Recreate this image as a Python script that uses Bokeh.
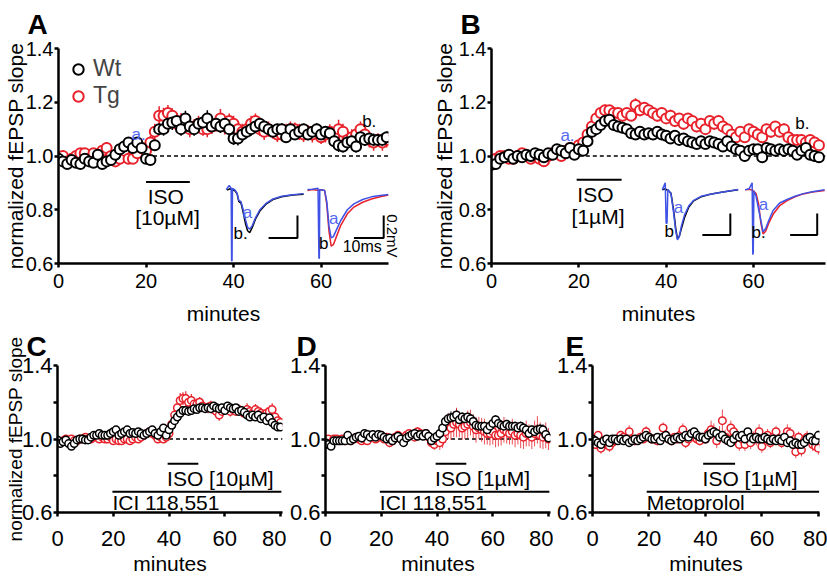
from bokeh.plotting import figure
from bokeh.models import (Range1d, FixedTicker, Label, Legend, LegendItem,
                          ColumnDataSource, Title, PrintfTickFormatter)
from bokeh.layouts import column, row
from bokeh.embed import file_html
from bokeh.resources import INLINE

FONT = "Liberation Sans"
RED = "#E8212B"
BLUE = "#3F52E6"
LBLUE = "#5468F0"

# ---------------- data ----------------
minutes_ab = list(range(76))
minutes_cde = list(range(81))

A_wt = [0.99, 0.98, 0.97, 0.985, 0.975, 0.97, 0.99, 0.98, 0.975, 1.005,
        0.97, 0.98, 0.985, 1.005, 1.025, 1.035, 1.05, 1.03, 1.05, 1.03,
        0.99, 0.985, 1.04, 1.10, 1.10, 1.12, 1.125, 1.13, 1.10, 1.14,
        1.11, 1.10, 1.12, 1.125, 1.14, 1.11, 1.12, 1.11, 1.12, 1.10,
        1.065, 1.065, 1.08, 1.09, 1.10, 1.11, 1.12, 1.11, 1.10, 1.09,
        1.10, 1.10, 1.07, 1.10, 1.08, 1.09, 1.10, 1.08, 1.09, 1.10,
        1.08, 1.09, 1.085, 1.055, 1.04, 1.035, 1.05, 1.055, 1.035, 1.07,
        1.06, 1.065, 1.06, 1.06, 1.06, 1.07]
A_wt_err = [0.01, 0.012, 0.015, 0.012, 0.014, 0.015, 0.012, 0.013, 0.015, 0.014,
            0.016, 0.015, 0.014, 0.016, 0.018, 0.017, 0.02, 0.018, 0.02, 0.018,
            0.015, 0.016, 0.02, 0.022, 0.025, 0.024, 0.028, 0.03, 0.025, 0.028,
            0.026, 0.025, 0.024, 0.025, 0.03, 0.026, 0.025, 0.024, 0.026, 0.025,
            0.024, 0.026, 0.025, 0.024, 0.025, 0.02, 0.022, 0.02, 0.022, 0.024,
            0.02, 0.022, 0.02, 0.021, 0.02, 0.022, 0.02, 0.021, 0.02, 0.022,
            0.02, 0.02, 0.022, 0.021, 0.025, 0.022, 0.02, 0.024, 0.022, 0.02,
            0.022, 0.02, 0.024, 0.022, 0.025, 0.02]
A_tg = [0.99, 1.0, 0.98, 0.99, 1.0, 1.01, 1.01, 0.99, 1.01, 1.0,
        1.02, 1.03, 1.0, 0.98, 0.99, 1.02, 0.99, 0.99, 1.01, 1.03,
        1.02, 1.05, 1.09, 1.15, 1.15, 1.16, 1.15, 1.12, 1.13, 1.12,
        1.10, 1.11, 1.12, 1.10, 1.10, 1.11, 1.12, 1.14, 1.11, 1.13,
        1.12, 1.10, 1.09, 1.10, 1.12, 1.13, 1.10, 1.09, 1.10, 1.09,
        1.08, 1.08, 1.09, 1.10, 1.10, 1.09, 1.08, 1.09, 1.08, 1.09,
        1.07, 1.08, 1.09, 1.07, 1.10, 1.09, 1.06, 1.07, 1.08, 1.10,
        1.08, 1.06, 1.05, 1.06, 1.05, 1.06]
A_tg_err = [0.015, 0.02, 0.015, 0.018, 0.02, 0.018, 0.02, 0.015, 0.02, 0.018,
            0.02, 0.022, 0.02, 0.018, 0.02, 0.022, 0.02, 0.018, 0.02, 0.022,
            0.02, 0.025, 0.03, 0.035, 0.03, 0.03, 0.028, 0.03, 0.03, 0.028,
            0.03, 0.028, 0.03, 0.025, 0.03, 0.028, 0.03, 0.035, 0.03, 0.028,
            0.03, 0.028, 0.03, 0.025, 0.03, 0.028, 0.025, 0.03, 0.028, 0.025,
            0.028, 0.025, 0.03, 0.028, 0.025, 0.03, 0.028, 0.025, 0.03, 0.028,
            0.025, 0.03, 0.028, 0.03, 0.035, 0.03, 0.028, 0.03, 0.03, 0.028,
            0.03, 0.028, 0.03, 0.025, 0.03, 0.028]

B_wt = [0.967, 0.97, 0.99, 0.995, 1.005, 0.99, 1.0, 0.995, 1.005, 1.0,
        1.01, 1.005, 0.995, 1.01, 1.005, 1.025, 1.02, 1.01, 1.03, 1.005,
        1.025, 1.02, 1.055, 1.09, 1.10, 1.115, 1.13, 1.135, 1.115, 1.11,
        1.105, 1.10, 1.085, 1.08, 1.09, 1.08, 1.085, 1.08, 1.09, 1.08,
        1.075, 1.065, 1.075, 1.06, 1.065, 1.055, 1.05, 1.045, 1.055, 1.045,
        1.055, 1.05, 1.045, 1.035, 1.055, 1.035, 1.025, 1.02, 1.0, 1.02,
        1.025, 1.025, 0.995, 1.03, 1.025, 1.02, 1.025, 1.02, 1.025, 1.02,
        1.005, 1.02, 1.03, 1.005, 1.0, 0.995]
B_wt_err = [0.01, 0.01, 0.008, 0.01, 0.008, 0.01, 0.008, 0.01, 0.008, 0.01,
            0.01, 0.008, 0.01, 0.01, 0.008, 0.01, 0.01, 0.008, 0.01, 0.01,
            0.01, 0.012, 0.012, 0.012, 0.01, 0.012, 0.01, 0.012, 0.01, 0.012,
            0.012, 0.01, 0.012, 0.012, 0.01, 0.012, 0.012, 0.01, 0.012, 0.012,
            0.012, 0.015, 0.012, 0.015, 0.012, 0.015, 0.018, 0.015, 0.02, 0.015,
            0.015, 0.012, 0.015, 0.015, 0.012, 0.015, 0.015, 0.015, 0.02, 0.015,
            0.015, 0.018, 0.02, 0.015, 0.015, 0.015, 0.012, 0.015, 0.015, 0.015,
            0.018, 0.015, 0.015, 0.02, 0.02, 0.015]
B_tg = [0.98, 0.99, 1.0, 1.0, 0.99, 0.99, 1.0, 1.01, 1.0, 0.99,
        1.0, 0.99, 0.98, 1.0, 1.01, 1.01, 1.0, 1.02, 1.03, 1.02,
        1.04, 1.05, 1.08, 1.11, 1.14, 1.16, 1.17, 1.17, 1.16, 1.16,
        1.15, 1.16, 1.15, 1.19, 1.17, 1.18, 1.17, 1.16, 1.15, 1.16,
        1.14, 1.15, 1.13, 1.14, 1.12, 1.14, 1.13, 1.11, 1.12, 1.10,
        1.13, 1.12, 1.13, 1.11, 1.10, 1.08, 1.07, 1.09, 1.07, 1.10,
        1.09, 1.08, 1.07, 1.10, 1.09, 1.11, 1.09, 1.10, 1.07, 1.06,
        1.06, 1.06, 1.05, 1.06, 1.05, 1.04]
B_tg_err = [0.01, 0.012, 0.01, 0.012, 0.01, 0.012, 0.01, 0.012, 0.01, 0.012,
            0.012, 0.01, 0.012, 0.012, 0.01, 0.012, 0.012, 0.015, 0.015, 0.015,
            0.015, 0.018, 0.02, 0.025, 0.022, 0.02, 0.022, 0.02, 0.022, 0.02,
            0.022, 0.02, 0.02, 0.025, 0.022, 0.02, 0.022, 0.02, 0.022, 0.02,
            0.02, 0.022, 0.02, 0.02, 0.022, 0.02, 0.02, 0.022, 0.02, 0.02,
            0.02, 0.022, 0.02, 0.02, 0.022, 0.02, 0.02, 0.022, 0.02, 0.02,
            0.02, 0.022, 0.02, 0.02, 0.022, 0.02, 0.02, 0.022, 0.02, 0.02,
            0.02, 0.022, 0.02, 0.02, 0.022, 0.02]

C_wt = [0.995, 0.975, 0.985, 0.995, 0.975, 0.96, 0.975, 0.995, 1.0, 1.0,
        0.995, 0.995, 1.01, 1.02, 1.02, 1.03, 1.02, 1.02, 1.02, 1.03,
        1.04, 1.05, 1.02, 1.03, 1.04, 1.05, 1.03, 1.035, 1.03, 1.04,
        1.03, 1.02, 1.03, 1.04, 1.05, 1.03, 1.02, 1.04, 1.06, 1.02,
        1.05, 1.075, 1.10, 1.12, 1.14, 1.155, 1.155, 1.15, 1.155, 1.165,
        1.16, 1.17, 1.17, 1.165, 1.17, 1.165, 1.18, 1.17, 1.165, 1.17,
        1.155, 1.18, 1.17, 1.165, 1.17, 1.15, 1.155, 1.145, 1.13, 1.12,
        1.13, 1.12, 1.13, 1.11, 1.12, 1.10, 1.115, 1.09, 1.075, 1.065,
        1.065]
C_wt_err = [0.008, 0.01, 0.008, 0.01, 0.008, 0.01, 0.008, 0.01, 0.008, 0.01,
            0.01, 0.008, 0.01, 0.01, 0.008, 0.01, 0.01, 0.008, 0.01, 0.01,
            0.01, 0.012, 0.01, 0.01, 0.012, 0.01, 0.01, 0.012, 0.01, 0.01,
            0.012, 0.01, 0.01, 0.012, 0.01, 0.01, 0.012, 0.01, 0.012, 0.01,
            0.012, 0.012, 0.015, 0.012, 0.012, 0.015, 0.012, 0.012, 0.015, 0.012,
            0.012, 0.015, 0.012, 0.012, 0.015, 0.012, 0.012, 0.015, 0.012, 0.012,
            0.015, 0.012, 0.012, 0.015, 0.012, 0.012, 0.015, 0.012, 0.012, 0.015,
            0.012, 0.015, 0.012, 0.015, 0.012, 0.015, 0.012, 0.015, 0.012, 0.015,
            0.012]
C_tg = [0.99, 0.98, 0.99, 1.0, 0.99, 1.0, 0.99, 0.99, 1.0, 1.0,
        1.01, 1.0, 1.0, 1.01, 1.01, 1.0, 1.01, 1.0, 1.0, 1.01,
        0.99, 1.0, 0.99, 0.99, 1.0, 1.0, 0.99, 1.0, 1.01, 1.0,
        1.01, 1.02, 1.03, 1.04, 1.03, 1.02, 1.0, 1.01, 1.0, 1.01,
        1.03, 1.08, 1.13, 1.17, 1.21, 1.22, 1.22, 1.20, 1.21, 1.19,
        1.19, 1.20, 1.18, 1.17, 1.17, 1.18, 1.16, 1.15, 1.13, 1.15,
        1.16, 1.17, 1.15, 1.16, 1.15, 1.16, 1.15, 1.14, 1.16, 1.15,
        1.14, 1.16, 1.15, 1.14, 1.13, 1.14, 1.15, 1.16, 1.12, 1.10,
        1.09]
C_tg_err = [0.01, 0.012, 0.01, 0.012, 0.01, 0.012, 0.01, 0.012, 0.01, 0.012,
            0.012, 0.01, 0.012, 0.012, 0.01, 0.012, 0.012, 0.01, 0.012, 0.012,
            0.012, 0.015, 0.012, 0.012, 0.015, 0.012, 0.012, 0.015, 0.012, 0.012,
            0.015, 0.012, 0.015, 0.018, 0.015, 0.012, 0.015, 0.012, 0.015, 0.015,
            0.02, 0.025, 0.03, 0.035, 0.04, 0.035, 0.04, 0.03, 0.035, 0.03,
            0.03, 0.028, 0.03, 0.025, 0.03, 0.028, 0.03, 0.025, 0.03, 0.028,
            0.03, 0.025, 0.028, 0.03, 0.025, 0.028, 0.03, 0.025, 0.035, 0.03,
            0.028, 0.03, 0.025, 0.03, 0.028, 0.03, 0.032, 0.035, 0.03, 0.028,
            0.025]

D_wt = [0.98, 0.97, 0.96, 0.99, 0.99, 0.99, 0.99, 0.99, 1.02, 0.99,
        1.0, 1.01, 1.015, 1.005, 1.03, 1.025, 1.01, 1.025, 1.01, 1.025,
        1.02, 1.01, 1.0, 1.005, 0.99, 1.005, 1.015, 1.0, 0.98, 1.005,
        1.015, 1.025, 1.03, 1.015, 1.025, 1.015, 1.03, 1.015, 0.99, 1.005,
        1.015, 1.03, 1.06, 1.095, 1.11, 1.115, 1.12, 1.13, 1.105, 1.12,
        1.11, 1.12, 1.11, 1.095, 1.075, 1.07, 1.07, 1.07, 1.05, 1.07,
        1.085, 1.105, 1.085, 1.075, 1.07, 1.08, 1.07, 1.07, 1.07, 1.06,
        1.07, 1.06, 1.05, 1.03, 1.05, 1.04, 1.05, 1.055, 1.05, 1.025,
        1.005]
D_wt_err = [0.012, 0.015, 0.012, 0.012, 0.015, 0.012, 0.012, 0.015, 0.012, 0.012,
            0.015, 0.012, 0.012, 0.015, 0.012, 0.012, 0.015, 0.012, 0.012, 0.015,
            0.012, 0.015, 0.012, 0.015, 0.02, 0.015, 0.012, 0.015, 0.02, 0.015,
            0.012, 0.015, 0.012, 0.015, 0.012, 0.015, 0.012, 0.015, 0.02, 0.015,
            0.015, 0.02, 0.025, 0.03, 0.03, 0.035, 0.03, 0.035, 0.03, 0.025,
            0.025, 0.02, 0.025, 0.02, 0.025, 0.02, 0.02, 0.025, 0.02, 0.025,
            0.02, 0.025, 0.02, 0.025, 0.02, 0.02, 0.025, 0.02, 0.025, 0.02,
            0.025, 0.02, 0.025, 0.025, 0.02, 0.025, 0.03, 0.025, 0.03, 0.025,
            0.02]
D_tg = [0.99, 1.0, 0.98, 1.0, 1.0, 0.99, 1.0, 0.99, 1.0, 0.99,
        1.0, 1.01, 1.0, 0.99, 1.0, 0.99, 1.02, 1.01, 1.0, 1.01,
        1.02, 1.0, 1.01, 0.98, 0.99, 1.01, 1.02, 1.01, 1.0, 1.02,
        1.03, 1.02, 1.01, 1.04, 1.03, 1.02, 1.03, 1.01, 0.98, 0.97,
        0.99, 0.98, 1.0, 1.04, 1.07, 1.06, 1.08, 1.09, 1.08, 1.06,
        1.07, 1.08, 1.09, 1.07, 1.05, 1.06, 1.05, 1.04, 1.03, 1.03,
        1.04, 1.02, 1.02, 1.03, 1.05, 1.04, 1.03, 1.04, 1.02, 1.03,
        1.02, 1.01, 1.03, 1.02, 1.01, 1.03, 1.05, 1.02, 1.01, 1.02,
        1.0]
D_tg_err = [0.015, 0.012, 0.015, 0.012, 0.015, 0.012, 0.015, 0.012, 0.015, 0.012,
            0.015, 0.012, 0.015, 0.012, 0.015, 0.012, 0.015, 0.012, 0.015, 0.012,
            0.015, 0.02, 0.015, 0.025, 0.02, 0.015, 0.02, 0.015, 0.02, 0.015,
            0.02, 0.015, 0.02, 0.025, 0.02, 0.015, 0.02, 0.02, 0.025, 0.03,
            0.035, 0.04, 0.05, 0.06, 0.07, 0.065, 0.07, 0.08, 0.07, 0.065,
            0.07, 0.075, 0.07, 0.065, 0.07, 0.06, 0.065, 0.07, 0.06, 0.065,
            0.07, 0.065, 0.06, 0.065, 0.07, 0.065, 0.06, 0.07, 0.065, 0.06,
            0.07, 0.065, 0.07, 0.06, 0.065, 0.07, 0.075, 0.07, 0.065, 0.07,
            0.06]

E_wt = [1.0, 0.99, 0.98, 0.97, 0.99, 1.0, 0.98, 1.0, 1.0, 0.99,
        1.0, 0.99, 1.0, 0.98, 0.99, 1.0, 0.99, 1.0, 1.01, 1.02,
        1.01, 1.0, 1.0, 1.01, 0.99, 1.01, 1.02, 1.0, 0.99, 1.0,
        1.01, 1.0, 1.01, 1.02, 1.01, 1.03, 1.04, 1.02, 1.01, 1.01,
        1.0, 1.02, 1.03, 1.04, 1.03, 1.01, 1.02, 1.0, 0.99, 0.98,
        1.0, 1.02, 1.01, 1.02, 1.0, 1.04, 1.01, 1.0, 1.01, 1.0,
        1.0, 1.01, 1.0, 0.99, 1.0, 0.99, 1.0, 0.99, 1.01, 0.98,
        0.99, 0.97, 0.98, 0.97, 0.97, 0.98, 1.0, 1.01, 0.99, 0.99,
        1.02]
E_wt_err = [0.012, 0.01, 0.012, 0.015, 0.012, 0.01, 0.012, 0.01, 0.012, 0.01,
            0.012, 0.01, 0.012, 0.015, 0.012, 0.01, 0.012, 0.01, 0.012, 0.01,
            0.012, 0.01, 0.012, 0.01, 0.012, 0.01, 0.012, 0.01, 0.012, 0.01,
            0.012, 0.01, 0.012, 0.01, 0.012, 0.015, 0.012, 0.01, 0.012, 0.01,
            0.012, 0.015, 0.012, 0.015, 0.012, 0.01, 0.012, 0.01, 0.012, 0.01,
            0.012, 0.01, 0.012, 0.01, 0.012, 0.015, 0.012, 0.01, 0.012, 0.01,
            0.012, 0.01, 0.012, 0.01, 0.012, 0.01, 0.012, 0.01, 0.015, 0.012,
            0.012, 0.015, 0.012, 0.015, 0.012, 0.015, 0.02, 0.02, 0.015, 0.02,
            0.025]
E_tg = [0.98, 0.97, 1.02, 0.95, 0.99, 0.97, 0.96, 0.98, 0.99, 1.0,
        1.02, 1.01, 1.0, 1.04, 1.0, 0.99, 1.0, 1.01, 1.0, 1.04,
        1.01, 1.0, 1.0, 0.99, 1.0, 1.06, 1.02, 1.0, 0.99, 1.01,
        1.0, 1.02, 1.05, 0.98, 1.0, 1.02, 1.01, 1.0, 0.99, 1.01,
        1.0, 1.03, 1.05, 1.04, 0.99, 1.02, 1.10, 1.01, 1.0, 1.06,
        1.04, 0.99, 0.97, 1.0, 0.97, 1.0, 0.98, 1.01, 1.0, 1.04,
        0.96, 1.0, 1.02, 0.98, 1.01, 1.04, 1.0, 0.98, 1.0, 1.04,
        1.03, 0.98, 0.93, 1.01, 0.94, 0.99, 1.01, 1.0, 0.97, 0.96,
        0.95]
E_tg_err = [0.02, 0.025, 0.02, 0.03, 0.02, 0.025, 0.03, 0.02, 0.025, 0.02,
            0.025, 0.02, 0.03, 0.035, 0.02, 0.025, 0.02, 0.025, 0.02, 0.03,
            0.02, 0.025, 0.02, 0.025, 0.02, 0.03, 0.025, 0.02, 0.025, 0.02,
            0.025, 0.03, 0.035, 0.03, 0.025, 0.02, 0.025, 0.02, 0.025, 0.02,
            0.025, 0.04, 0.05, 0.045, 0.04, 0.05, 0.06, 0.04, 0.035, 0.04,
            0.035, 0.03, 0.035, 0.03, 0.035, 0.03, 0.035, 0.03, 0.035, 0.04,
            0.035, 0.03, 0.035, 0.03, 0.035, 0.03, 0.035, 0.03, 0.035, 0.04,
            0.035, 0.03, 0.035, 0.03, 0.035, 0.03, 0.035, 0.03, 0.035, 0.03,
            0.035]

# inset traces (read in the panel's own coordinates)
A_wt_b_x = [38.5, 39.2, 39.6, 40.2, 40.8, 41.2, 41.7, 42.2, 42.7, 43.2, 43.7, 44.3, 45.0, 46.0, 47.5, 49.0, 51.0, 53.5, 56.0]
A_wt_b_y = [0.873, 0.878, 0.874, 0.872, 0.86, 0.83, 0.825, 0.79, 0.75, 0.722, 0.715, 0.735, 0.765, 0.795, 0.822, 0.838, 0.848, 0.855, 0.858]
A_wt_a_x = [38.3, 39.0, 39.45, 39.55, 39.65, 39.75, 40.3, 40.8, 41.2, 41.7, 42.2, 42.7, 43.2, 43.7, 44.3, 45.0, 46.0, 47.5, 49.0, 51.0, 53.5, 56.0]
A_wt_a_y = [0.875, 0.89, 0.88, 0.61, 0.61, 0.88, 0.874, 0.862, 0.835, 0.83, 0.80, 0.765, 0.735, 0.728, 0.742, 0.77, 0.80, 0.825, 0.84, 0.85, 0.856, 0.86]
A_tg_b_x = [56.9, 58.0, 59.2, 60.0, 60.8, 61.3, 61.8, 62.3, 62.8, 63.5, 64.5, 66.0, 67.5, 69.5, 71.5, 73.5, 75.4]
A_tg_b_y = [0.872, 0.875, 0.873, 0.874, 0.872, 0.82, 0.72, 0.665, 0.67, 0.70, 0.742, 0.785, 0.81, 0.828, 0.84, 0.848, 0.855]
A_tg_a_x = [56.9, 58.0, 59.3, 59.5, 59.6, 59.7, 60.0, 60.8, 61.3, 61.8, 62.3, 62.8, 63.5, 64.5, 66.0, 67.5, 69.5, 71.5, 73.5, 75.4]
A_tg_a_y = [0.875, 0.876, 0.88, 0.62, 0.62, 0.875, 0.874, 0.872, 0.83, 0.74, 0.695, 0.70, 0.725, 0.76, 0.80, 0.822, 0.838, 0.848, 0.853, 0.857]

B_wt_b_x = [39.1, 39.8, 40.5, 41.1, 41.7, 42.2, 42.6, 43.0, 43.5, 44.2, 45.2, 46.3, 48.0, 50.1, 53.0, 56.5]
B_wt_b_y = [0.874, 0.878, 0.87, 0.862, 0.80, 0.73, 0.692, 0.70, 0.73, 0.77, 0.81, 0.833, 0.848, 0.858, 0.866, 0.874]
B_wt_a_x = [39.1, 39.8, 40.0, 40.2, 40.4, 41.1, 41.7, 42.2, 42.6, 43.0, 43.5, 44.2, 45.2, 46.3, 48.0, 50.1, 53.0, 56.5]
B_wt_a_y = [0.874, 0.90, 0.75, 0.75, 0.876, 0.86, 0.79, 0.72, 0.688, 0.70, 0.74, 0.78, 0.815, 0.835, 0.85, 0.858, 0.866, 0.875]
B_tg_b_x = [58.1, 59.0, 59.9, 60.6, 61.2, 61.7, 62.2, 62.8, 63.5, 64.5, 66.0, 67.7, 69.5, 71.4, 73.5, 76.3]
B_tg_b_y = [0.874, 0.876, 0.872, 0.86, 0.82, 0.75, 0.71, 0.72, 0.75, 0.783, 0.815, 0.834, 0.848, 0.859, 0.866, 0.872]
B_tg_a_x = [58.1, 59.0, 59.7, 59.85, 59.95, 60.1, 60.6, 61.2, 61.7, 62.2, 62.8, 63.5, 64.5, 66.0, 67.7, 69.5, 71.4, 73.5, 76.3]
B_tg_a_y = [0.874, 0.878, 0.90, 0.633, 0.64, 0.87, 0.85, 0.80, 0.76, 0.718, 0.73, 0.76, 0.797, 0.825, 0.838, 0.85, 0.86, 0.867, 0.874]

ticks_y = [0.6, 0.8, 1.0, 1.2, 1.4]
ticks_x_top = [0, 20, 40, 60]
ticks_x_bottom = [0, 20, 40, 60, 80]


# ---------------- helpers ----------------
def make_fig(width, height, mbl, mbr, mbt, mbb, xend, xticks, tick_fs,
             ylabel=None, ylabel_fs="21px", ylabel_standoff=0,
             xlab_standoff=6, xlab_als=11, partial_y=False):
    p = figure(width=width, height=height, x_range=Range1d(0, xend),
               y_range=Range1d(0.6, 1.4), output_backend="svg",
               toolbar_location=None, title=None,
               min_border_left=mbl, min_border_right=mbr,
               min_border_top=mbt, min_border_bottom=mbb)
    p.outline_line_color = None
    p.xgrid.visible = False
    p.ygrid.visible = False
    p.background_fill_color = "white"
    p.border_fill_color = "white"
    xa = p.xaxis[0]
    ya = p.yaxis[0]
    for ax in (xa, ya):
        ax.axis_line_width = 2.5
        ax.axis_line_color = "black"
        ax.major_tick_line_width = 2.5
        ax.major_tick_line_color = "black"
        ax.major_tick_out = 4
        ax.major_tick_in = 0
        ax.minor_tick_line_color = None
        ax.major_label_text_font = FONT
        ax.major_label_text_font_size = tick_fs
        ax.major_label_text_color = "black"
        ax.axis_label_text_font = FONT
        ax.axis_label_text_font_style = "normal"
        ax.axis_label_text_color = "black"
    xa.ticker = FixedTicker(ticks=xticks)
    ya.ticker = FixedTicker(ticks=ticks_y)
    ya.formatter = PrintfTickFormatter(format="%.1f")
    xa.major_label_standoff = xlab_standoff
    ya.major_label_standoff = 1
    xa.axis_label = "minutes"
    xa.axis_label_text_font_size = "21px"
    xa.axis_label_standoff = xlab_als
    if ylabel:
        ya.axis_label = ylabel
        ya.axis_label_text_font_size = ylabel_fs
        ya.axis_label_standoff = ylabel_standoff
    if partial_y:
        ya.major_label_overrides = {0.8: "", 1.2: ""}
    return p


def add_series(p, xs, ys, errs, color, elw, ealpha=1.0):
    lo = [v - e for v, e in zip(ys, errs)]
    hi = [v + e for v, e in zip(ys, errs)]
    src = ColumnDataSource(dict(x=xs, y=ys, lo=lo, hi=hi))
    p.segment(x0="x", y0="lo", x1="x", y1="hi", source=src,
              line_color=color, line_width=elw, line_alpha=ealpha)
    return src


def add_points(p, src, color, size, lw):
    return p.scatter("x", "y", source=src, marker="circle", size=size,
                     fill_color="white", line_color=color, line_width=lw)


def txt(p, x, y, s, size, color="black", align="center"):
    p.add_layout(Label(x=x, y=y, text=s, text_font=FONT, text_font_size=size,
                       text_color=color, text_align=align, text_baseline="middle"))


def letter(p, s, offset, standoff):
    p.add_layout(Title(text=s, align="left", offset=offset, text_font=FONT,
                       text_font_size="28px", text_font_style="bold",
                       text_color="black", vertical_align="top",
                       standoff=standoff), "above")


def hline(p, x0, x1, y, dash=None, lw=2):
    if dash:
        p.line([x0, x1], [y, y], line_color="black", line_width=lw, line_dash=dash)
    else:
        p.line([x0, x1], [y, y], line_color="black", line_width=lw)


def dual_panel(p, wt, wt_err, tg, tg_err, xs, size, lw, elw, ealpha=1.0):
    s_wt = add_series(p, xs, wt, wt_err, "black", elw)
    s_tg = add_series(p, xs, tg, tg_err, RED, elw, ealpha)
    r_tg = add_points(p, s_tg, RED, size, lw)
    r_wt = add_points(p, s_wt, "black", size, lw)
    return r_wt, r_tg


YLAB = "normalized fEPSP slope"

# ---------------- panel A ----------------
pA = make_fig(420, 327, 58, 32, 48, 60, 75.4, ticks_x_top, "20px",
              ylabel=YLAB, ylabel_fs="21px", ylabel_standoff=-4)
letter(pA, "A", -31, 13)
hline(pA, 20, 75.4, 1.0, dash="4 3", lw=1.5)
r_wt, r_tg = dual_panel(pA, A_wt, A_wt_err, A_tg, A_tg_err, minutes_ab, 10, 2, 1.5)
legend = Legend(items=[LegendItem(label="Wt", renderers=[r_wt]),
                       LegendItem(label="Tg", renderers=[r_tg])],
                location="top_left", margin=7, padding=0, spacing=0,
                glyph_width=26, glyph_height=26, label_standoff=2,
                label_text_font=FONT, label_text_font_size="23px",
                border_line_color=None, background_fill_alpha=0)
pA.add_layout(legend)
hline(pA, 20, 30, 0.903, lw=2)
txt(pA, 24.5, 0.848, "ISO", "21px")
txt(pA, 24.9, 0.772, "[10µM]", "21px")
txt(pA, 18.3, 1.08, "a.", "17px", color=LBLUE)
txt(pA, 71.0, 1.127, "b.", "17px")
pA.line(A_wt_b_x, A_wt_b_y, line_color="black", line_width=1.5)
pA.line(A_wt_a_x, A_wt_a_y, line_color=BLUE, line_width=1.5)
pA.line(A_tg_b_x, A_tg_b_y, line_color=RED, line_width=1.5)
pA.line(A_tg_a_x, A_tg_a_y, line_color=BLUE, line_width=1.5)
pA.line([48, 54.6, 54.6], [0.695, 0.695, 0.779], line_color="black", line_width=2)
pA.line([67.5, 74.3, 74.3], [0.695, 0.695, 0.779], line_color="black", line_width=2)
txt(pA, 43.2, 0.79, "a", "17px", color=LBLUE)
txt(pA, 41.6, 0.71, "b.", "17px")
txt(pA, 62.9, 0.768, "a", "17px", color=LBLUE)
txt(pA, 60.6, 0.676, "b", "17px")
txt(pA, 69.4, 0.665, "10ms", "16px")
pA.add_layout(Title(text="0.2mV", align="right", offset=6, text_font=FONT,
                    text_font_size="15px", text_font_style="normal",
                    text_color="black", standoff=-10), "right")

# ---------------- panel B ----------------
pB = make_fig(407, 327, 71, 2, 48, 60, 76.5, ticks_x_top, "20px",
              ylabel=YLAB, ylabel_fs="21px", ylabel_standoff=0)
letter(pB, "B", -31, 13)
hline(pB, 20, 76.5, 1.0, dash="4 3", lw=1.5)
dual_panel(pB, B_wt, B_wt_err, B_tg, B_tg_err, minutes_ab, 10, 2, 1.5)
hline(pB, 19.5, 29.8, 0.912, lw=2)
txt(pB, 23.8, 0.857, "ISO", "21px")
txt(pB, 24.4, 0.774, "[1µM]", "21px")
txt(pB, 17.4, 1.075, "a.", "17px", color=LBLUE)
txt(pB, 71.2, 1.12, "b.", "17px")
pB.line(B_wt_b_x, B_wt_b_y, line_color="black", line_width=1.5)
pB.line(B_wt_a_x, B_wt_a_y, line_color=BLUE, line_width=1.5)
pB.line(B_tg_b_x, B_tg_b_y, line_color=RED, line_width=1.5)
pB.line(B_tg_a_x, B_tg_a_y, line_color=BLUE, line_width=1.5)
pB.line([48.3, 54.7, 54.7], [0.706, 0.706, 0.786], line_color="black", line_width=2)
pB.line([68.4, 74.6, 74.6], [0.706, 0.706, 0.786], line_color="black", line_width=2)
txt(pB, 42.8, 0.808, "a", "17px", color=LBLUE)
txt(pB, 40.7, 0.72, "b", "17px")
txt(pB, 62.3, 0.82, "a", "17px", color=LBLUE)
txt(pB, 61.2, 0.717, "b.", "17px")

# ---------------- panel C ----------------
pC = make_fig(286, 250, 57, 4, 38, 64, 80.7, ticks_x_bottom, "22px",
              ylabel=YLAB, ylabel_fs="19px", ylabel_standoff=-7,
              xlab_standoff=14, xlab_als=3, partial_y=True)
letter(pC, "C", -31, 3)
hline(pC, 40, 80.7, 1.0, dash="4 3", lw=1.5)
dual_panel(pC, C_wt, C_wt_err, C_tg, C_tg_err, minutes_cde, 7.5, 1.5, 1.2)
hline(pC, 39.5, 50.5, 0.865, lw=2)
txt(pC, 39.3, 0.784, "ISO [10µM]", "21px", align="left")
hline(pC, 19.7, 80.3, 0.713, lw=2)
txt(pC, 19.7, 0.652, "ICI 118,551", "21px", align="left")

# ---------------- panel D ----------------
pD = make_fig(267, 250, 38, 3, 38, 64, 80.7, ticks_x_bottom, "22px",
              xlab_standoff=14, xlab_als=3, partial_y=True)
letter(pD, "D", -29, 3)
hline(pD, 40, 80.7, 1.0, dash="4 3", lw=1.5)
dual_panel(pD, D_wt, D_wt_err, D_tg, D_tg_err, minutes_cde, 7.5, 1.5, 1.0, 0.8)
hline(pD, 39.5, 50.5, 0.865, lw=2)
txt(pD, 39.3, 0.784, "ISO [1µM]", "21px", align="left")
hline(pD, 19.5, 80.3, 0.713, lw=2)
txt(pD, 19.5, 0.652, "ICI 118,551", "21px", align="left")

# ---------------- panel E ----------------
pE = make_fig(274, 250, 38, 8, 38, 64, 80.4, ticks_x_bottom, "22px",
              xlab_standoff=14, xlab_als=3, partial_y=True)
letter(pE, "E", -27, 3)
dual_panel(pE, E_wt, E_wt_err, E_tg, E_tg_err, minutes_cde, 7.5, 1.5, 1.0, 0.8)
hline(pE, 39.2, 50.5, 0.865, lw=2)
txt(pE, 39.0, 0.784, "ISO [1µM]", "21px", align="left")
hline(pE, 19.2, 80.3, 0.713, lw=2)
txt(pE, 19.2, 0.652, "Metoprolol", "21px", align="left")

layout = column(row(pA, pB), row(pC, pD, pE))

open("out.html", "w").write(file_html(layout, INLINE))
